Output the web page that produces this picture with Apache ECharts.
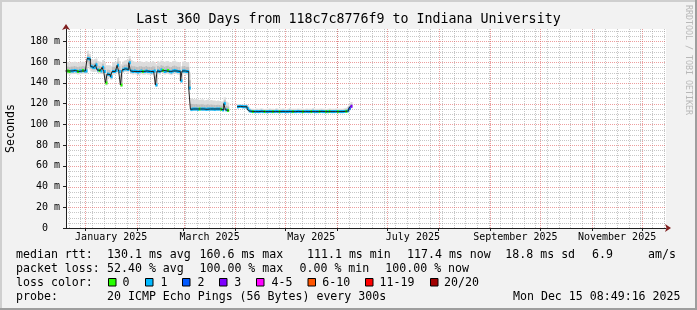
<!DOCTYPE html>
<html>
<head>
<meta charset="utf-8">
<script src="https://cdn.jsdelivr.net/npm/echarts@6/dist/echarts.min.js"></script>
<style>
html,body{margin:0;padding:0;background:#f2f2f2;}
#chart{width:697px;height:310px;}
</style>
</head>
<body>
<div id="chart"></div>
<script>
// ---------------- data ----------------
const DAY = 86400000;
const END_TIME = Date.UTC(2025, 11, 15, 8, 49, 16);
const START_TIME = END_TIME - 360 * DAY;
const FIRST_DAY = Date.UTC(2024, 11, 20);   // timestamp of the first daily value

// median RTT per day (ms)
const median = [
  151.5,151.5,151,151.5,151.5,152,151.5,151,151.5,151.5,
  152,151.5,151.5,163.5,163,156,155,155,157.5,152.5,
  152,151.5,155,151,140,148.5,148,146,151,151,
  152,157,151,138,152.5,153.5,153.5,153,159.5,151.5,
  151,151.5,151,150.5,151,151.5,151,151,151.5,151,
  151,150.5,151,151.5,138,151.5,151,152.5,152,151,
  151.5,152,151,150.5,151.5,152,151.5,151,151,142,
  151.5,151.5,151,151,135,114.5,114.8,114.8,114.8,114.5,
  114.8,114.8,114.8,114.8,114.5,114.8,114.8,114.8,114.8,114.5,
  114.8,114.8,114.8,114.5,114,120,114,113.5,null,null,
  null,null,null,117,117.3,117.3,117,117,117,115,
  113,112.5,112.3,112.3,112.5,112.3,112.3,112.6,112.3,112.3,
  112.3,112.3,112.5,112.3,112.3,112.3,112.6,112.3,112.3,112.3,
  112.5,112.3,112.3,112.3,112.6,112.3,112.3,112.3,112.3,112.5,
  112.3,112.3,112.3,112.3,112.5,112.3,112.3,112.3,112.6,112.3,
  112.3,112.3,112.3,112.5,112.3,112.3,112.3,112.3,112.5,112.3,
  112.3,112.3,112.5,112.3,112.3,112.3,112.3,112.5,112.6,113,
  115.5,117.4
];
// lost pings (of 20) per day
const lossCount = [
  1,0,0,1,1,1,1,0,1,1,
  0,1,1,1,1,1,1,1,1,1,
  0,1,1,1,0,1,1,1,1,1,
  1,1,1,0,1,1,1,1,1,1,
  1,1,1,1,1,1,0,1,1,1,
  1,1,1,1,1,1,1,1,0,1,
  1,0,1,1,1,1,1,1,1,1,
  1,1,1,1,1,1,1,1,1,1,
  0,1,1,1,1,1,1,1,1,1,
  1,1,1,0,1,1,1,0,null,null,
  null,null,null,1,1,1,1,1,1,1,
  1,1,0,1,1,1,1,1,1,0,
  1,1,1,1,0,1,1,1,0,1,
  1,1,1,1,1,1,0,1,1,1,
  1,1,0,1,1,1,1,0,1,1,
  1,1,0,1,1,1,0,1,0,1,
  1,1,1,0,1,1,1,1,0,1,
  2,3
];
// smoke upper extent per day (ms)
const smokeHi = [
  160,160,159.5,160,160,160.5,160,159.5,160,160,
  160.5,160,160,171,168,163,162,163,163.5,161,
  160.5,160,162,160,157,157,157,156,160,160,
  160.5,164,161,158,160.5,161.5,162,162,166,162,
  161,160.5,160,160,161,160.5,160,160,161,160,
  160,160,161,160,158,161,160,161.5,161,160,
  161,161,160,160,161,161.5,160.5,160,160,156,
  160.5,161,160,160,150,125,124.5,124,124.5,124,
  123.5,124,124,123,123.5,124,123,123.5,123,123,
  122.5,123,122.5,122,122,126,122,121,null,null,
  null,null,null,119.5,119.5,119,119,119,119,118,
  115.5,115,115,114.8,115.2,115,115,115.4,115,114.8,
  115,115,115.2,115,115,114.8,115.5,115,115,115,
  115.2,115,114.8,115,115.5,115,115,115,115,115.2,
  115,115,115,114.8,115.2,115,115,115,115.5,115,
  115,115,115,115.2,115,115,114.8,115,115.2,115,
  115,115,115.2,115,115,115,115,115.5,116,117,
  120,121.5
];
// smoke lower extent per day (ms)
const smokeLo = [
  148.5,148.5,148,148.5,148.5,149,148.5,148,148.5,148.5,
  149,148.5,148.5,156,153,151,150.5,150.5,151,149.5,
  149,148.5,150.5,148,137.5,145,145,143,148,148,
  149,153,148,136,149.5,150.5,150.5,150,155,148.5,
  148,148.5,148,147.5,148,148.5,148,148,148.5,148,
  148,147.5,148,148.5,136,148.5,148,149.5,149,148,
  148.5,149,148,147.5,148.5,149,148.5,148,148,140,
  148.5,148.5,148,148,133,112.5,113,113,113,112.8,
  113,113,113,113,112.8,113,113,113,113,112.8,
  113,113,113,112.8,112.5,117,112.5,112,null,null,
  null,null,null,115.5,116,116,115.5,115.5,115.5,113.5,
  111.8,111.3,111.2,111.3,111.4,111.3,111.2,111.4,111.3,111.3,
  111.3,111.2,111.4,111.3,111.3,111.3,111.4,111.2,111.3,111.3,
  111.4,111.3,111.3,111.2,111.4,111.3,111.3,111.3,111.2,111.4,
  111.3,111.3,111.2,111.3,111.4,111.3,111.3,111.3,111.4,111.3,
  111.3,111.2,111.3,111.4,111.3,111.3,111.3,111.2,111.4,111.3,
  111.3,111.3,111.4,111.3,111.2,111.3,111.3,111.4,111.4,111.8,
  113.5,115.5
];

const yTicks = [0, 20, 40, 60, 80, 100, 120, 140, 160, 180];
const Y_MAX = 192;
const monthLabels = ['January 2025', 'March 2025', 'May 2025', 'July 2025', 'September 2025', 'November 2025'];
const labelMonths = [0, 2, 4, 6, 8, 10];

const lossLegend = ['0', '1', '2', '3', '4-5', '6-10', '11-19', '20/20'];
const lossLimits = [0, 1, 2, 3, 5, 10, 19, 20];
const lossColors = ['#26ff00', '#00b8ff', '#0059ff', '#7e00ff', '#ff00ff', '#ff5500', '#ff0000', '#a10000'];

const titleText = 'Last 360 Days from 118c7c8776f9 to Indiana University';
const rttStats = ['130.1 ms avg', '160.6 ms max', '111.1 ms min', '117.4 ms now', '18.8 ms sd', '6.9', 'am/s'];
const lossStats = ['52.40 % avg', '100.00 % max', '0.00 % min', '100.00 % now'];
const probeText = '20 ICMP Echo Pings (56 Bytes) every 300s';
const stampText = 'Mon Dec 15 08:49:16 2025';

// ---------------- layout / style ----------------
const MONO = "'DejaVu Sans Mono', monospace";
const rttX = [107, 199.5, 307, 407, 505.3, 592, 648];
const lossX = [107, 199.5, 299.5, 385.3];
const boxX = [108, 145, 182, 219, 256, 307.5, 365, 430];
const boxLabelX = [122.6, 160.6, 197.6, 234.3, 271.6, 322.3, 379.6, 444];
const rowY = [254.5, 268.5, 282.5, 296.5];
const MAJOR = 'rgba(222,79,79,0.55)';
const MINOR = 'rgba(143,143,143,0.5)';
const AXIS = '#1f1f1f';

function lossBucket(n) {
  for (let k = 0; k < lossLimits.length; k++) if (n <= lossLimits[k]) return k;
  return lossLimits.length - 1;
}

// grid line positions (calendar / value positions, drawn through the axes)
const monthStarts = [];
for (let m = 0; m < 12; m++) monthStarts.push(Date.UTC(2025, m, 1));
const weekLines = [];
for (let t = Date.UTC(2024, 11, 22); t <= END_TIME; t += 7 * DAY) weekLines.push(t);
const labelCenters = labelMonths.map(m => (Date.UTC(2025, m, 1) + Date.UTC(2025, m + 1, 1)) / 2);
const labelMap = {};
labelCenters.forEach((v, i) => { labelMap[v] = monthLabels[i]; });
const yMinor = [];
for (let v = 5; v < Y_MAX; v += 5) if (v % 20 !== 0) yMinor.push(v);
const yMajorLines = yTicks.filter(v => v > 0);

const dayStart = i => FIRST_DAY + i * DAY;
const smokeData = [], medData = [], lineData = [];
median.forEach((m, i) => {
  lineData.push([dayStart(i), m]);
  if (m == null) return;
  smokeData.push([dayStart(i), smokeLo[i], smokeHi[i], m]);
  medData.push([dayStart(i), m, lossCount[i]]);
});

function vLineRenderer(color) {
  return function (params, api) {
    const x = Math.round(api.coord([api.value(0), 0])[0]) + 0.5;
    const y0 = api.coord([api.value(0), 0])[1];
    const y1 = api.coord([api.value(0), Y_MAX])[1];
    return { type: 'line', shape: { x1: x, y1: y0, x2: x, y2: y1 },
      style: { stroke: color, lineWidth: 1, lineDash: [1, 1] } };
  };
}
function hLineRenderer(color) {
  return function (params, api) {
    const y = Math.round(api.coord([START_TIME, api.value(1)])[1]) + 0.5;
    const x0 = api.coord([START_TIME, 0])[0];
    const x1 = api.coord([END_TIME, 0])[0];
    return { type: 'line', shape: { x1: x0, y1: y, x2: x1, y2: y },
      style: { stroke: color, lineWidth: 1, lineDash: [1, 1] } };
  };
}
function renderSmoke(params, api) {
  const t = api.value(0), lo = api.value(1), hi = api.value(2), md = api.value(3);
  const a = api.coord([t, hi]);
  const b = api.coord([t + DAY, lo]);
  const inHi = api.coord([t, md + (hi - md) * 0.5])[1];
  const inLo = api.coord([t, md - (md - lo) * 0.5])[1];
  const x = a[0], w = b[0] - a[0] + 0.5;
  return {
    type: 'group',
    children: [
      { type: 'rect', shape: { x: x, y: a[1], width: w, height: b[1] - a[1] }, style: { fill: '#dcdcdc' } },
      { type: 'rect', shape: { x: x, y: inHi, width: w, height: inLo - inHi }, style: { fill: '#bdbdbd' } }
    ]
  };
}
function renderMedian(params, api) {
  const t = api.value(0), md = api.value(1), lc = api.value(2);
  const a = api.coord([t, md]);
  const b = api.coord([t + DAY, md]);
  return {
    type: 'rect',
    shape: { x: a[0], y: a[1] - 1.5, width: b[0] - a[0] + 0.4, height: 3 },
    style: { fill: lossColors[lossBucket(lc)] }
  };
}

// graphic decoration + legend
const g = [];
g.push({ type: 'rect', shape: { x: 0, y: 0, width: 697, height: 2 }, style: { fill: '#cfcfcf' }, silent: true });
g.push({ type: 'rect', shape: { x: 0, y: 0, width: 2, height: 310 }, style: { fill: '#cfcfcf' }, silent: true });
g.push({ type: 'rect', shape: { x: 0, y: 308, width: 697, height: 2 }, style: { fill: '#9e9e9e' }, silent: true });
g.push({ type: 'rect', shape: { x: 695, y: 0, width: 2, height: 310 }, style: { fill: '#9e9e9e' }, silent: true });
function txt(s, x, y, align) {
  return { type: 'text', x: x, y: y, silent: true,
    style: { text: s, font: "11.6px 'DejaVu Sans Mono'", fill: '#000', align: align || 'left', verticalAlign: 'middle' } };
}
g.push(txt('median rtt:', 16, rowY[0]));
rttStats.forEach((s, i) => g.push(txt(s, rttX[i], rowY[0])));
g.push(txt('packet loss:', 16, rowY[1]));
lossStats.forEach((s, i) => g.push(txt(s, lossX[i], rowY[1])));
g.push(txt('loss color:', 16, rowY[2]));
lossLegend.forEach((s, i) => {
  g.push({ type: 'rect', silent: true, shape: { x: boxX[i] + 0.5, y: rowY[2] - 4, width: 7.5, height: 7.5 },
    style: { fill: lossColors[i], stroke: '#000', lineWidth: 1 } });
  g.push(txt(s, boxLabelX[i], rowY[2]));
});
g.push(txt('probe:', 16, rowY[3]));
g.push(txt(probeText, 107, rowY[3]));
g.push(txt(stampText, 680.5, rowY[3], 'right'));
g.push({ type: 'text', x: 688, y: 60, rotation: -Math.PI / 2, silent: true,
  style: { text: 'RRDTOOL / TOBI OETIKER', font: "8.3px 'DejaVu Sans Mono'", fill: '#b8b8b8', align: 'center', verticalAlign: 'middle' } });
g.push({ type: 'text', x: 348.5, y: 19.5, silent: true,
  style: { text: titleText, font: "13.3px 'DejaVu Sans Mono'", fill: '#000', align: 'center', verticalAlign: 'middle' } });

const option = {
  animation: false,
  backgroundColor: '#f2f2f2',
  grid: { left: 66, top: 29, width: 600, height: 199, show: true, backgroundColor: '#ffffff', borderWidth: 0,
    containLabel: false, outerBoundsMode: 'none' },
  xAxis: [
    { type: 'value', min: START_TIME, max: END_TIME, position: 'bottom', z: 3,
      axisLine: { show: true, onZero: false, lineStyle: { color: AXIS, width: 1 } },
      axisTick: { show: true, customValues: monthStarts, length: 3, lineStyle: { color: AXIS } },
      axisLabel: { show: true, customValues: labelCenters, formatter: v => labelMap[v] || '', margin: 4,
        fontFamily: MONO, fontSize: 10, color: '#000' },
      splitLine: { show: false } },
    { type: 'value', min: START_TIME, max: END_TIME, position: 'bottom', z: 4,
      axisLine: { show: true, onZero: false, symbol: ['none', 'arrow'], symbolSize: [6, 6], symbolOffset: [0, 5],
        lineStyle: { color: '#801f1f', width: 0 } },
      axisTick: { show: false }, axisLabel: { show: false }, splitLine: { show: false } }
  ],
  yAxis: [
    { type: 'value', min: 0, max: Y_MAX, position: 'left', z: 3,
      name: 'Seconds', nameLocation: 'middle', nameGap: 49,
      nameTextStyle: { fontFamily: MONO, fontSize: 11.6, color: '#000' },
      axisLine: { show: true, onZero: false, lineStyle: { color: AXIS, width: 1 } },
      axisTick: { show: true, customValues: yTicks, length: 3, lineStyle: { color: AXIS } },
      axisLabel: { customValues: yTicks, formatter: v => (v === 0 ? '0  ' : v + ' m'), margin: 6,
        fontFamily: MONO, fontSize: 10, color: '#000' },
      splitLine: { show: false } },
    { type: 'value', min: 0, max: Y_MAX, position: 'left', z: 4,
      axisLine: { show: true, onZero: false, symbol: ['none', 'arrow'], symbolSize: [6, 6], symbolOffset: [0, 5],
        lineStyle: { color: '#801f1f', width: 0 } },
      axisTick: { show: false }, axisLabel: { show: false }, splitLine: { show: false } }
  ],
  series: [
    { type: 'custom', name: 'week grid', silent: true, clip: false,
      renderItem: vLineRenderer(MINOR), data: weekLines.map(t => [t, 0]) },
    { type: 'custom', name: 'minor y grid', silent: true, clip: false,
      renderItem: hLineRenderer(MINOR), data: yMinor.map(v => [START_TIME, v]) },
    { type: 'custom', name: 'month grid', silent: true, clip: false,
      renderItem: vLineRenderer(MAJOR), data: monthStarts.map(t => [t, 0]) },
    { type: 'custom', name: 'major y grid', silent: true, clip: false,
      renderItem: hLineRenderer(MAJOR), data: yMajorLines.map(v => [START_TIME, v]) },
    { type: 'custom', name: 'smoke', clip: true, silent: true,
      renderItem: renderSmoke, data: smokeData, encode: { x: 0, y: [1, 2] } },
    { type: 'line', name: 'median', step: 'end', showSymbol: false, symbol: 'none',
      connectNulls: false, silent: true, data: lineData, lineStyle: { color: '#202020', width: 1 } },
    { type: 'custom', name: 'loss', clip: true, silent: true,
      renderItem: renderMedian, data: medData, encode: { x: 0, y: 1 } }
  ],
  graphic: g
};

const chart = echarts.init(document.getElementById('chart'), null, { renderer: 'canvas' });
chart.setOption(option);
</script>
</body>
</html>
